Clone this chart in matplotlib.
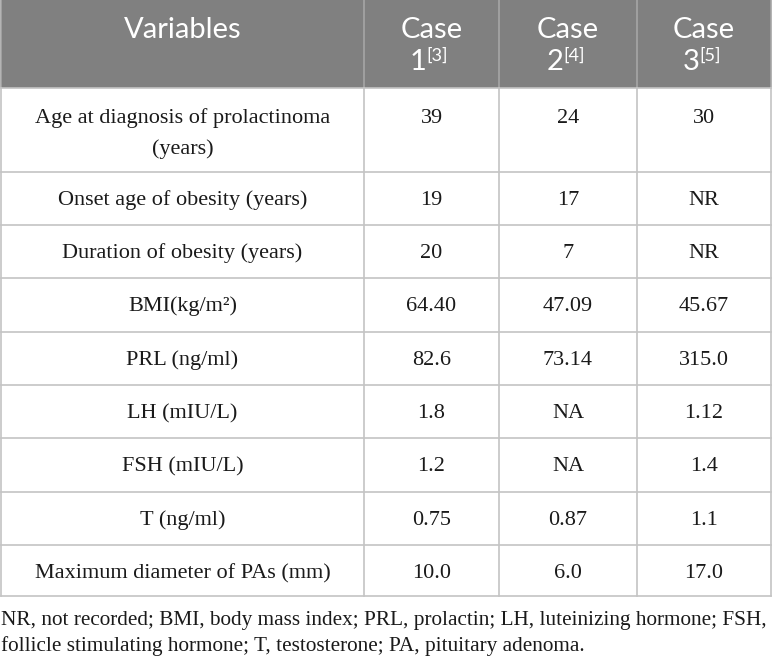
import matplotlib
matplotlib.use("Agg")
import matplotlib.pyplot as plt
from matplotlib.patches import Rectangle

# table content
variables = [
    ["Age at diagnosis of prolactinoma", "(years)"],
    ["Onset age of obesity (years)"],
    ["Duration of obesity (years)"],
    ["BMI(kg/m\u00b2)"],
    ["PRL (ng/ml)"],
    ["LH (mIU/L)"],
    ["FSH (mIU/L)"],
    ["T (ng/ml)"],
    ["Maximum diameter of PAs (mm)"],
]
case1 = ["39", "19", "20", "64.40", "82.6", "1.8", "1.2", "0.75", "10.0"]
case2 = ["24", "17", "7", "47.09", "73.14", "NA", "NA", "0.87", "6.0"]
case3 = ["30", "NR", "NR", "45.67", "315.0", "1.12", "1.4", "1.1", "17.0"]
case_nums = ["1", "2", "3"]
case_refs = ["[3]", "[4]", "[5]"]
footnote = ["NR, not recorded; BMI, body mass index; PRL, prolactin; LH, luteinizing hormone; FSH,",
            "follicle stimulating hormone; T, testosterone; PA, pituitary adenoma."]

W, H = 772, 657
col_x = [1, 364, 499, 637, 771]
row_y = [0, 88, 172, 225, 278, 332, 385, 438, 492, 545, 596]

serif = "Liberation Serif"
sans = "Lato"
body_fs = 16
foot_fs = 15.3
head_fs = 21
header_col = "#808080"
line_col = "#c4c4c4"
txt_col = "#1a1a1a"

fig = plt.figure(figsize=(W / 100, H / 100), dpi=100, facecolor="w")
ax = fig.add_axes([0, 0, 1, 1])
ax.set_xlim(0, W)
ax.set_ylim(H, 0)
ax.axis("off")

# header band
ax.add_patch(Rectangle((col_x[0], row_y[0]), col_x[-1] - col_x[0], row_y[1] - row_y[0],
                       facecolor=header_col, edgecolor="none"))
for x in col_x:
    ax.plot([x, x], [row_y[0], row_y[1]], color="#a6a6a6", lw=1.2)
    ax.plot([x, x], [row_y[1], row_y[-1]], color=line_col, lw=1.2)
for y in row_y[1:]:
    ax.plot([col_x[0], col_x[-1]], [y, y], color=line_col, lw=1.2)

centers = [(col_x[i] + col_x[i + 1]) / 2 for i in range(4)]

ax.text(centers[0], 38, "Variables", ha="center", va="baseline", color="w",
        fontsize=head_fs, family=sans)
for i in range(3):
    cx = centers[i + 1]
    ax.text(cx, 38, "Case", ha="center", va="baseline", color="w",
            fontsize=head_fs, family=sans)
    ax.text(cx - 13, 70, case_nums[i], ha="center", va="baseline", color="w",
            fontsize=head_fs, family=sans)
    ax.text(cx - 5, 61, case_refs[i], ha="left", va="baseline", color="w",
            fontsize=head_fs * 0.62, family=sans)

for r in range(len(variables)):
    top = row_y[r + 1]
    y0 = top + 33 if len(variables[r]) == 1 else top + 35
    for k, line in enumerate(variables[r]):
        ax.text(centers[0], y0 + k * 31, line, ha="center", va="baseline",
                color=txt_col, fontsize=body_fs, family=serif)
    for c, vals in enumerate([case1, case2, case3]):
        ax.text(centers[c + 1], y0, vals[r], ha="center", va="baseline",
                color=txt_col, fontsize=body_fs, family=serif)

for k, line in enumerate(footnote):
    ax.text(1, 625 + k * 26, line, ha="left", va="baseline",
            color=txt_col, fontsize=foot_fs, family=serif)

fig.savefig("out.png", dpi=100, facecolor="w")
